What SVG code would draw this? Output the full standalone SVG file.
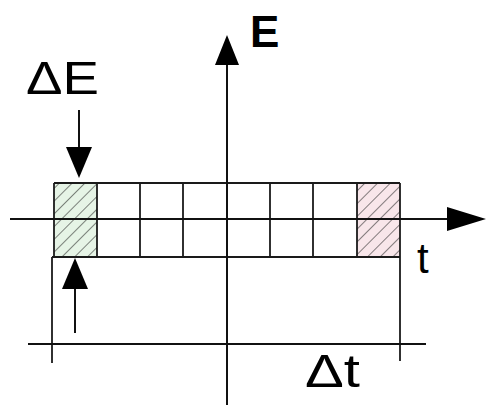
<svg xmlns="http://www.w3.org/2000/svg" width="488" height="405" viewBox="0 0 488 405">
<style>
.ln{stroke:#111;stroke-width:2;fill:none}
.gl{stroke:#1a1a1a;stroke-width:1.8;fill:none}
.ah{fill:#000}
.lbl{font-family:"Liberation Sans",Arial,sans-serif;fill:#000}
</style>
<defs>
<pattern id="hg" patternUnits="userSpaceOnUse" width="9" height="9" patternTransform="rotate(45)">
<rect width="9" height="9" fill="#e6f4e6"/>
<line x1="0" y1="0" x2="0" y2="9" stroke="#222" stroke-width="1.1"/>
</pattern>
<pattern id="hp" patternUnits="userSpaceOnUse" width="9" height="9" patternTransform="rotate(45)">
<rect width="9" height="9" fill="#f8e6ea"/>
<line x1="0" y1="0" x2="0" y2="9" stroke="#222" stroke-width="1.1"/>
</pattern>
</defs>
<rect width="488" height="405" fill="#fff"/>
<g id="hatch-left"><rect x="54" y="183" width="43" height="74" fill="url(#hg)"/></g>
<g id="hatch-right"><rect x="357" y="183" width="43" height="74" fill="url(#hp)"/></g>
<g id="grid">
<line class="gl" x1="54" y1="183" x2="400" y2="183"/>
<line class="gl" x1="52" y1="257" x2="400" y2="257"/>
<line class="gl" x1="54" y1="183" x2="54" y2="257"/>
<line class="gl" x1="97" y1="183" x2="97" y2="257"/>
<line class="gl" x1="140" y1="183" x2="140" y2="257"/>
<line class="gl" x1="183" y1="183" x2="183" y2="257"/>
<line class="gl" x1="270" y1="183" x2="270" y2="257"/>
<line class="gl" x1="313" y1="183" x2="313" y2="257"/>
<line class="gl" x1="357" y1="183" x2="357" y2="257"/>
<line class="gl" x1="400" y1="183" x2="400" y2="257"/>
</g>
<g id="connectors">
<line class="ln" x1="10" y1="219" x2="450" y2="219"/>
<polygon class="ah" points="447,207 486,219 447,231"/>
<line class="ln" x1="227" y1="405" x2="227" y2="62"/>
<polygon class="ah" points="215,65 227,35 239,65"/>
<line class="ln" x1="79" y1="110" x2="79" y2="150"/>
<polygon class="ah" points="66,147 79,178 92,147"/>
<line class="ln" x1="75" y1="286" x2="75" y2="333"/>
<polygon class="ah" points="62,289 75,258 88,289"/>
<line class="gl" x1="52" y1="257" x2="52" y2="363"/>
<line class="gl" x1="400" y1="257" x2="400" y2="361"/>
<line class="ln" x1="28" y1="344" x2="426" y2="344"/>
</g>
<g id="labels">
<text class="lbl" x="250" y="47" font-size="44" font-weight="bold">E</text>
<text class="lbl" x="26" y="94" font-size="46" textLength="73" lengthAdjust="spacingAndGlyphs">ΔE</text>
<text class="lbl" x="417" y="273" font-size="42">t</text>
<text class="lbl" x="305" y="387" font-size="46" textLength="55" lengthAdjust="spacingAndGlyphs">Δt</text>
</g>
</svg>
